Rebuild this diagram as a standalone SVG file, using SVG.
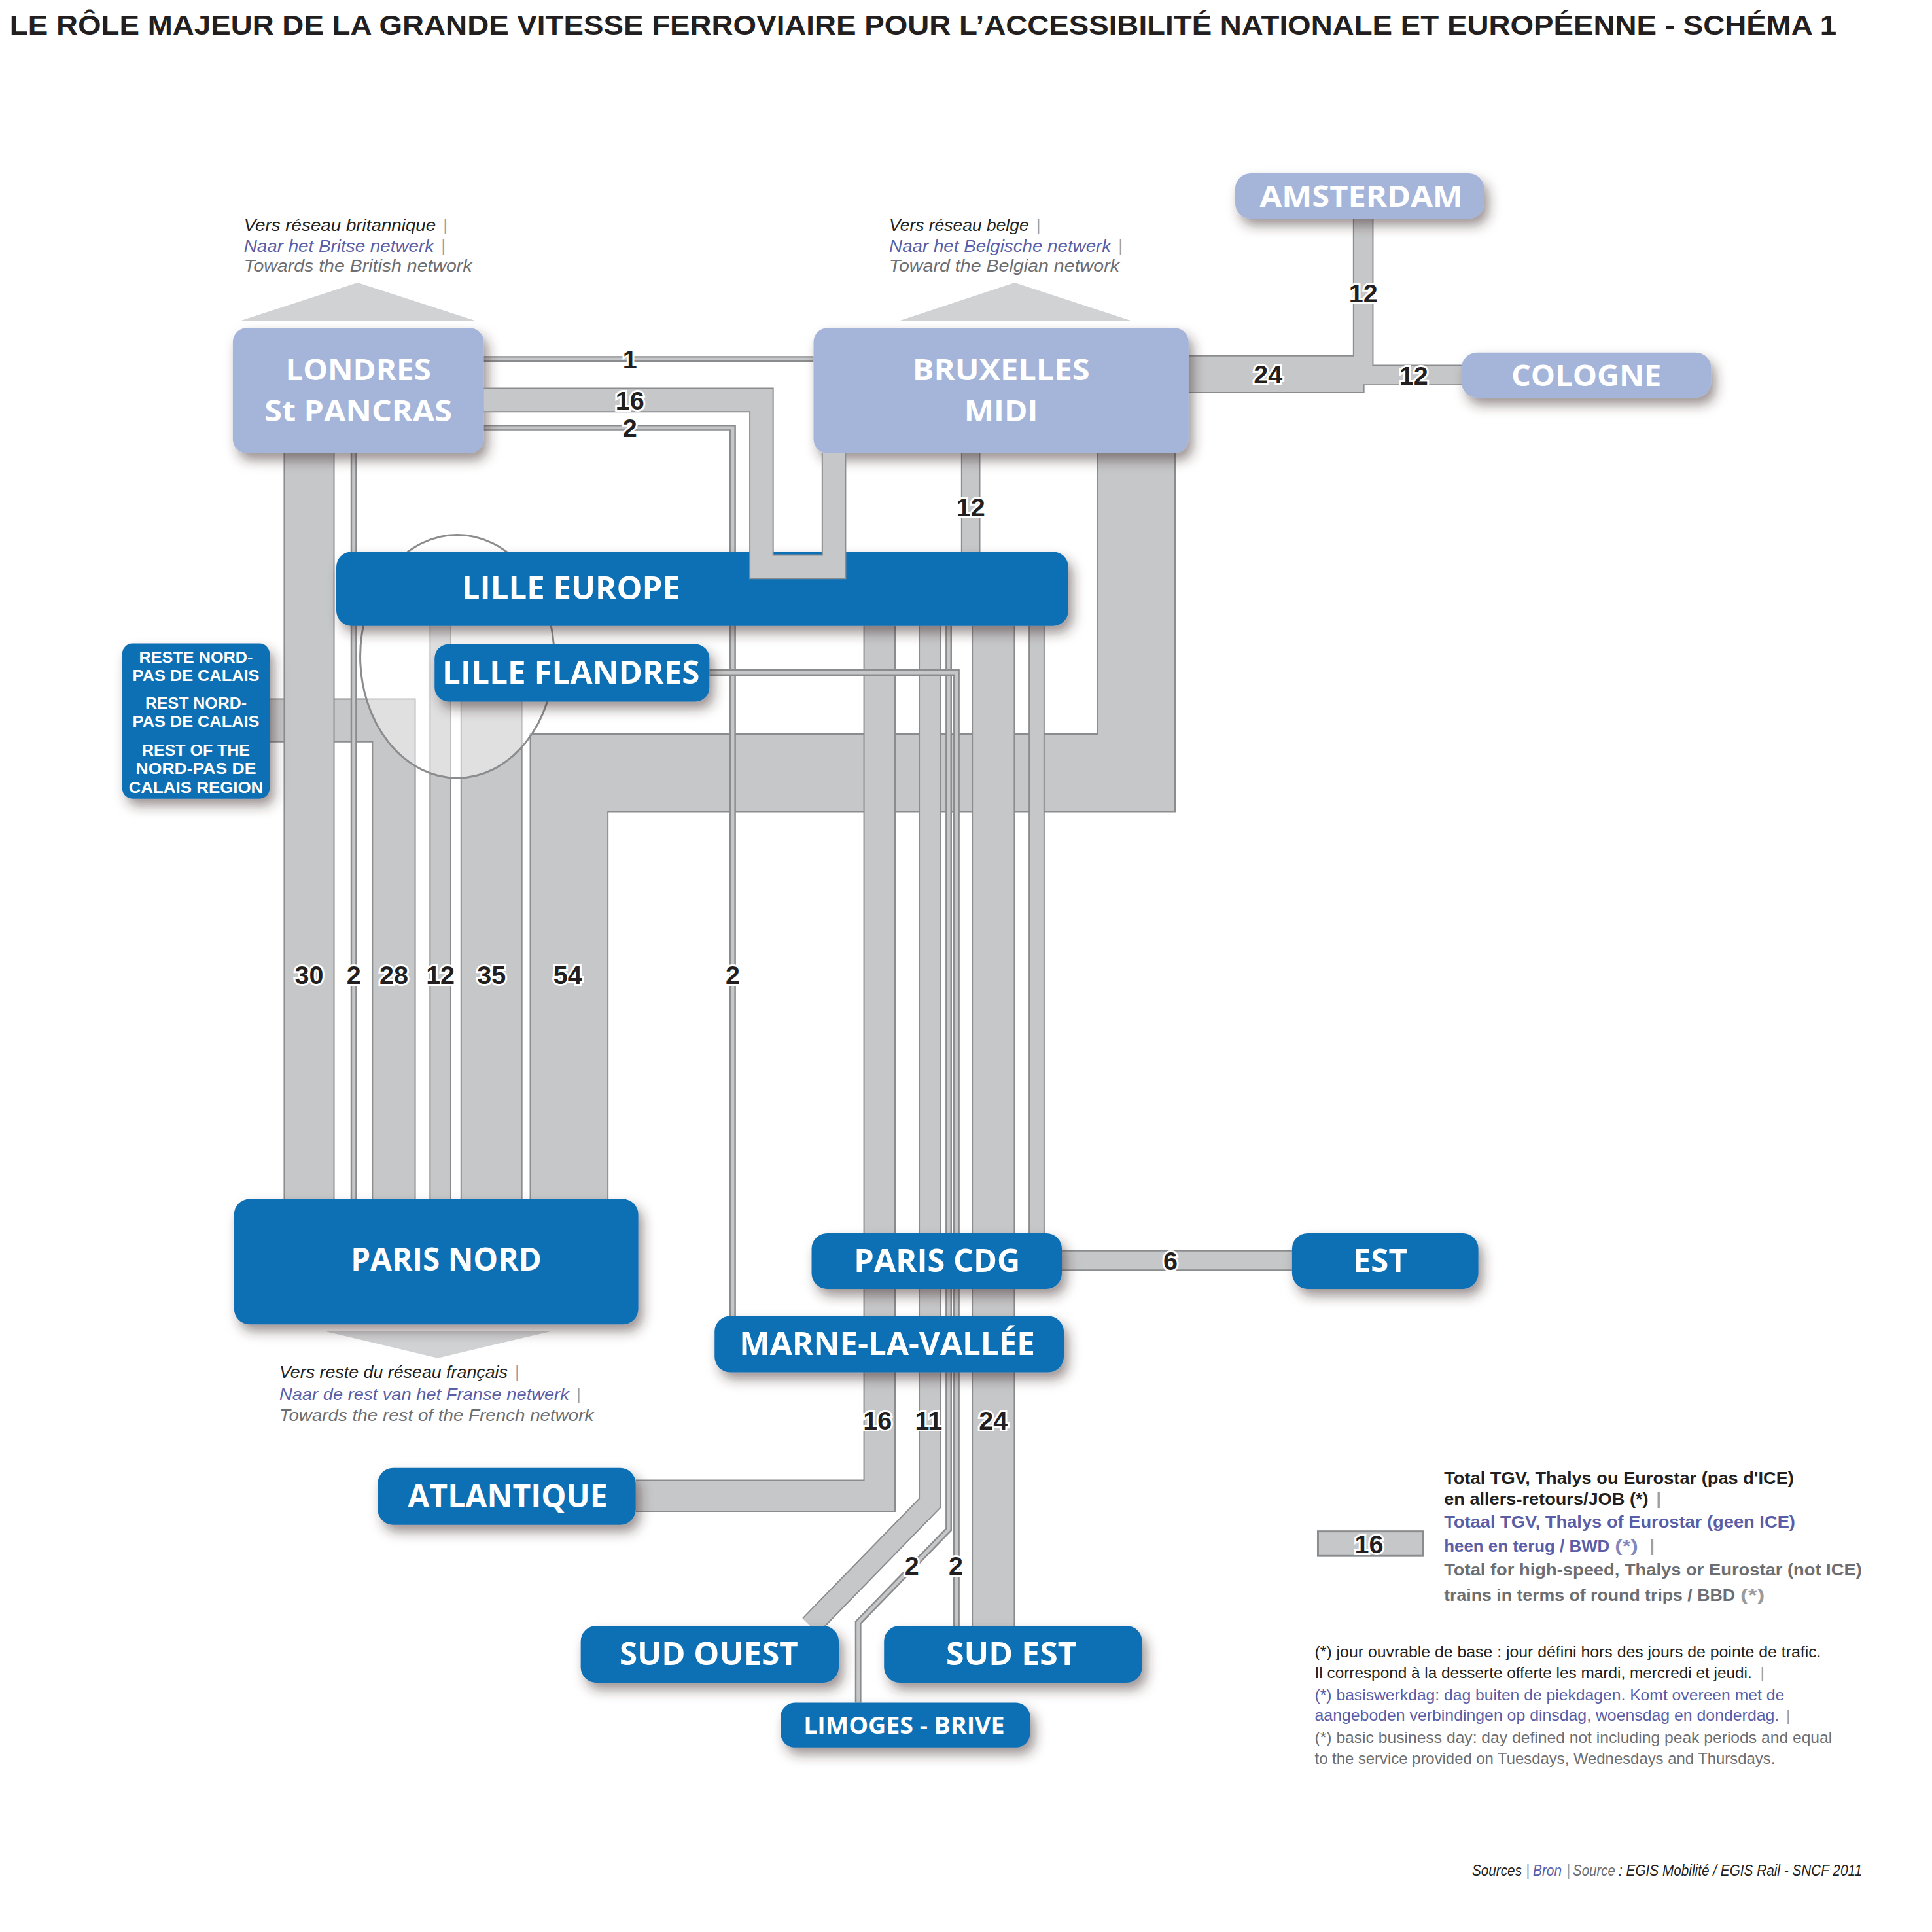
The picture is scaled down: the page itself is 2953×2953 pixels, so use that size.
<svg xmlns="http://www.w3.org/2000/svg" width="2953" height="2953" viewBox="0 0 2953 2953">
<defs>
<filter id="sh" x="-15%" y="-25%" width="140%" height="170%">
<feDropShadow dx="7" dy="11" stdDeviation="9" flood-color="#3b2c2c" flood-opacity="0.5"/>
</filter>
<style>
.o{fill:none;stroke:#8b8c8e}
.f{fill:none;stroke:#c6c7c9}
.lb{fill:#a5b5da}
.db{fill:#0c70b4}
.nt{font-family:'Open Sans','DejaVu Sans',sans-serif;font-weight:700;fill:#fff;text-anchor:middle}
.rt{font-family:'Liberation Sans',Arial,sans-serif;font-weight:700;font-size:24.5px;fill:#fff;text-anchor:middle}
.num{font-family:'Liberation Sans',Arial,sans-serif;font-weight:700;font-size:40px;fill:#231f20;stroke:#fff;stroke-width:6px;paint-order:stroke;text-anchor:middle}
.it{font-family:'Liberation Sans',Arial,sans-serif;font-style:italic;font-size:26px}
.k{fill:#231f20}.b{fill:#5a5ea6}.g{fill:#6d6e71}.p{fill:#9d9fa2}.b2{fill:#8486c0}.g2{fill:#9a9b9e}
.lg{font-family:'Liberation Sans',Arial,sans-serif;font-weight:700;font-size:27px}
.fn{font-family:'Liberation Sans',Arial,sans-serif;font-size:25px}
.src{font-family:'Liberation Sans',Arial,sans-serif;font-style:italic;font-size:23.5px}
.tri{fill:#d1d2d4}
</style>
</defs>
<rect width="2953" height="2953" fill="#fff"/>
<g transform="scale(0.98845)">

<text x="15" y="54" font-family="'Liberation Sans',Arial,sans-serif" font-weight="700" font-size="43" fill="#231f20" textLength="2825" lengthAdjust="spacingAndGlyphs">LE RÔLE MAJEUR DE LA GRANDE VITESSE FERROVIAIRE POUR L’ACCESSIBILITÉ NATIONALE ET EUROPÉENNE - SCHÉMA 1</text>

<g id="arrows">
<polygon class="tri" points="372,496 735,496 553,437"/>
<polygon class="tri" points="1391,496 1749,496 1569,437"/>
<polygon class="tri" points="500,2058 855,2058 677,2100"/>
</g>

<g id="connectors">
<path class="o" stroke-width="122" d="M880,1854V1195H1757V701"/><path class="f" stroke-width="118" d="M880,1854V1195H1757V701"/>
<path class="o" stroke-width="68" d="M417,1114H609V1854"/><path class="f" stroke-width="64" d="M417,1114H609V1854"/>
<path class="o" stroke-width="79" d="M478,701V1854"/><path class="f" stroke-width="75" d="M478,701V1854"/>
<path class="o" stroke-width="10" d="M547,701V1854"/><path class="f" stroke-width="5" d="M547,701V1854"/>
<path class="o" stroke-width="34" d="M681,968V1854"/><path class="f" stroke-width="30" d="M681,968V1854"/>
<path class="o" stroke-width="96" d="M760,1084V1854"/><path class="f" stroke-width="92" d="M760,1084V1854"/>
<path class="o" stroke-width="9" d="M748,555H1258"/><path class="f" stroke-width="4" d="M748,555H1258"/>
<path class="o" stroke-width="10" d="M748,661.5H1133V2035"/><path class="f" stroke-width="5" d="M748,661.5H1133V2035"/>
<path class="o" stroke-width="30" d="M1501,701V853"/><path class="f" stroke-width="26" d="M1501,701V853"/>
<path class="o" stroke-width="50" d="M1360,968V2313H983"/><path class="f" stroke-width="46" d="M1360,968V2313H983"/>
<path class="o" stroke-width="35" d="M1438,968V2324L1253,2514"/><path class="f" stroke-width="31" d="M1438,968V2324L1253,2514"/>
<path class="o" stroke-width="10" d="M1467,968V2365L1327,2509V2633"/><path class="f" stroke-width="5" d="M1467,968V2365L1327,2509V2633"/>
<path class="o" stroke-width="67" d="M1536,968V2514"/><path class="f" stroke-width="63" d="M1536,968V2514"/>
<path class="o" stroke-width="25" d="M1603,968V1907"/><path class="f" stroke-width="21" d="M1603,968V1907"/>
<path class="o" stroke-width="10" d="M1097,1040H1479V2514"/><path class="f" stroke-width="5" d="M1097,1040H1479V2514"/>
<path class="o" stroke-width="32" d="M1642,1949H1998"/><path class="f" stroke-width="28" d="M1642,1949H1998"/>
<path class="o" stroke-width="59" d="M1838,578.5H2110"/>
<path class="o" stroke-width="32" d="M2108,338V580H2260"/>
<path class="f" stroke-width="55" d="M1838,578.5H2108"/>
<path class="f" stroke-width="28" d="M2108,338V580H2260"/>
</g>

<ellipse cx="707" cy="1015" rx="150" ry="188" fill="#fff" fill-opacity="0.45" stroke="#8b8c8e" stroke-width="3"/>

<g id="n-londres"><rect class="lb" x="360" y="507" width="388" height="194" rx="22" filter="url(#sh)"/>
<text class="nt" x="554" y="588" font-size="46" textLength="225" lengthAdjust="spacingAndGlyphs">LONDRES</text>
<text class="nt" x="554" y="652" font-size="46" textLength="290" lengthAdjust="spacingAndGlyphs">St PANCRAS</text></g>
<g id="n-bruxelles"><rect class="lb" x="1258" y="507" width="580" height="194" rx="22" filter="url(#sh)"/>
<text class="nt" x="1548" y="588" font-size="46" textLength="274" lengthAdjust="spacingAndGlyphs">BRUXELLES</text>
<text class="nt" x="1548" y="652" font-size="46" textLength="114" lengthAdjust="spacingAndGlyphs">MIDI</text></g>
<g id="n-amsterdam"><rect class="lb" x="1910" y="268" width="385" height="70" rx="24" filter="url(#sh)"/>
<text class="nt" x="2105" y="320" font-size="46" textLength="314" lengthAdjust="spacingAndGlyphs">AMSTERDAM</text></g>
<g id="n-cologne"><rect class="lb" x="2260" y="545" width="386" height="70" rx="24" filter="url(#sh)"/>
<text class="nt" x="2453" y="597" font-size="46" textLength="232" lengthAdjust="spacingAndGlyphs">COLOGNE</text></g>
<g id="n-lille-europe"><rect class="db" x="520" y="853" width="1132" height="115" rx="24" filter="url(#sh)"/>
<text class="nt" x="883" y="927" font-size="48" textLength="338" lengthAdjust="spacingAndGlyphs">LILLE EUROPE</text></g>
<g id="n-lille-flandres"><rect class="db" x="672" y="996" width="425" height="89" rx="22" filter="url(#sh)"/>
<text class="nt" x="883" y="1057" font-size="48" textLength="398" lengthAdjust="spacingAndGlyphs">LILLE FLANDRES</text></g>
<g id="n-reste"><rect class="db" x="189" y="995" width="228" height="240" rx="16" filter="url(#sh)"/>
<text class="rt" x="303" y="1025" textLength="176" lengthAdjust="spacingAndGlyphs">RESTE NORD-</text>
<text class="rt" x="303" y="1053" textLength="196" lengthAdjust="spacingAndGlyphs">PAS DE CALAIS</text>
<text class="rt" x="303" y="1096" textLength="157" lengthAdjust="spacingAndGlyphs">REST NORD-</text>
<text class="rt" x="303" y="1124" textLength="196" lengthAdjust="spacingAndGlyphs">PAS DE CALAIS</text>
<text class="rt" x="303" y="1168" textLength="167" lengthAdjust="spacingAndGlyphs">REST OF THE</text>
<text class="rt" x="303" y="1197" textLength="186" lengthAdjust="spacingAndGlyphs">NORD-PAS DE</text>
<text class="rt" x="303" y="1226" textLength="208" lengthAdjust="spacingAndGlyphs">CALAIS REGION</text></g>
<g id="n-paris-nord"><rect class="db" x="362" y="1854" width="625" height="194" rx="24" filter="url(#sh)"/>
<text class="nt" x="690" y="1965" font-size="48" textLength="295" lengthAdjust="spacingAndGlyphs">PARIS NORD</text></g>
<g id="n-paris-cdg"><rect class="db" x="1255" y="1907" width="387" height="86" rx="24" filter="url(#sh)"/>
<text class="nt" x="1449" y="1967" font-size="48" textLength="257" lengthAdjust="spacingAndGlyphs">PARIS CDG</text></g>
<g id="n-est"><rect class="db" x="1998" y="1907" width="288" height="86" rx="24" filter="url(#sh)"/>
<text class="nt" x="2134" y="1967" font-size="48" textLength="84" lengthAdjust="spacingAndGlyphs">EST</text></g>
<g id="n-mlv"><rect class="db" x="1105" y="2035" width="540" height="87" rx="24" filter="url(#sh)"/>
<text class="nt" x="1372" y="2095" font-size="48" textLength="457" lengthAdjust="spacingAndGlyphs">MARNE-LA-VALLÉE</text></g>
<g id="n-atlantique"><rect class="db" x="584" y="2270" width="399" height="88" rx="24" filter="url(#sh)"/>
<text class="nt" x="785" y="2331" font-size="48" textLength="309" lengthAdjust="spacingAndGlyphs">ATLANTIQUE</text></g>
<g id="n-sud-ouest"><rect class="db" x="898" y="2514" width="399" height="88" rx="24" filter="url(#sh)"/>
<text class="nt" x="1096" y="2575" font-size="48" textLength="276" lengthAdjust="spacingAndGlyphs">SUD OUEST</text></g>
<g id="n-sud-est"><rect class="db" x="1367" y="2514" width="399" height="88" rx="24" filter="url(#sh)"/>
<text class="nt" x="1564" y="2575" font-size="48" textLength="202" lengthAdjust="spacingAndGlyphs">SUD EST</text></g>
<g id="n-limoges"><rect class="db" x="1207" y="2633" width="386" height="69" rx="22" filter="url(#sh)"/>
<text class="nt" x="1398" y="2681" font-size="36" textLength="311" lengthAdjust="spacingAndGlyphs">LIMOGES - BRIVE</text></g>

<g id="connector-16-u">
<path class="o" stroke-width="38" d="M748,618.5H1177.5V876.5H1289.5V701"/><path class="f" stroke-width="34" d="M748,618.5H1177.5V876.5H1289.5V701"/>
</g>

<g id="numbers">
<text class="num" x="974" y="570">1</text>
<text class="num" x="974" y="633">16</text>
<text class="num" x="974" y="676">2</text>
<text class="num" x="2108" y="467">12</text>
<text class="num" x="1961" y="593">24</text>
<text class="num" x="2186" y="595">12</text>
<text class="num" x="1501" y="798">12</text>
<text class="num" x="478" y="1522">30</text>
<text class="num" x="547" y="1522">2</text>
<text class="num" x="609" y="1522">28</text>
<text class="num" x="681" y="1522">12</text>
<text class="num" x="760" y="1522">35</text>
<text class="num" x="878" y="1522">54</text>
<text class="num" x="1133" y="1522">2</text>
<text class="num" x="1810" y="1964">6</text>
<text class="num" x="1357" y="2211">16</text>
<text class="num" x="1436" y="2211">11</text>
<text class="num" x="1536" y="2211">24</text>
<text class="num" x="1410" y="2435">2</text>
<text class="num" x="1478" y="2435">2</text>
</g>

<g id="notes">
<text class="it k" x="377" y="357" textLength="297" lengthAdjust="spacingAndGlyphs">Vers réseau britannique</text><text class="it p" x="685" y="357">|</text>
<text class="it b" x="377" y="390" textLength="294" lengthAdjust="spacingAndGlyphs">Naar het Britse netwerk</text><text class="it p" x="682" y="390">|</text>
<text class="it g" x="377" y="420" textLength="353" lengthAdjust="spacingAndGlyphs">Towards the British network</text>
<text class="it k" x="1375" y="357" textLength="216" lengthAdjust="spacingAndGlyphs">Vers réseau belge</text><text class="it p" x="1602" y="357">|</text>
<text class="it b" x="1375" y="390" textLength="343" lengthAdjust="spacingAndGlyphs">Naar het Belgische netwerk</text><text class="it p" x="1729" y="390">|</text>
<text class="it g" x="1375" y="420" textLength="356" lengthAdjust="spacingAndGlyphs">Toward the Belgian network</text>
<text class="it k" x="432" y="2131" textLength="353" lengthAdjust="spacingAndGlyphs">Vers reste du réseau français</text><text class="it p" x="796" y="2131">|</text>
<text class="it b" x="432" y="2165" textLength="448" lengthAdjust="spacingAndGlyphs">Naar de rest van het Franse netwerk</text><text class="it p" x="891" y="2165">|</text>
<text class="it g" x="432" y="2197" textLength="486" lengthAdjust="spacingAndGlyphs">Towards the rest of the French network</text>
</g>

<g id="legend">
<rect x="2038" y="2368" width="162" height="38" fill="#c6c7c9" stroke="#8b8c8e" stroke-width="3"/>
<text class="num" x="2117" y="2402">16</text>
<text class="lg k" x="2233" y="2295" textLength="541" lengthAdjust="spacingAndGlyphs">Total TGV, Thalys ou Eurostar (pas d'ICE)</text>
<text class="lg k" x="2233" y="2327" textLength="316" lengthAdjust="spacingAndGlyphs">en allers-retours/JOB (*)</text><text class="lg p" x="2561" y="2327">|</text>
<text class="lg b" x="2233" y="2362" textLength="543" lengthAdjust="spacingAndGlyphs">Totaal TGV, Thalys of Eurostar (geen ICE)</text>
<text class="lg b" x="2233" y="2400" textLength="256" lengthAdjust="spacingAndGlyphs">heen en terug / BWD</text><text class="lg b2" x="2497" y="2400" textLength="36" lengthAdjust="spacingAndGlyphs">(*)</text><text class="lg p" x="2551" y="2400">|</text>
<text class="lg g" x="2233" y="2436" textLength="646" lengthAdjust="spacingAndGlyphs">Total for high-speed, Thalys or Eurostar (not ICE)</text>
<text class="lg g" x="2233" y="2476" textLength="450" lengthAdjust="spacingAndGlyphs">trains in terms of round trips / BBD</text><text class="lg g2" x="2691" y="2476" textLength="38" lengthAdjust="spacingAndGlyphs">(*)</text>
</g>

<g id="footnotes">
<text class="fn k" x="2033" y="2563" textLength="783" lengthAdjust="spacingAndGlyphs">(*) jour ouvrable de base : jour défini hors des jours de pointe de trafic.</text>
<text class="fn k" x="2033" y="2595" textLength="676" lengthAdjust="spacingAndGlyphs">Il correspond à la desserte offerte les mardi, mercredi et jeudi.</text><text class="fn p" x="2722" y="2595">|</text>
<text class="fn b" x="2033" y="2629" textLength="726" lengthAdjust="spacingAndGlyphs">(*) basiswerkdag: dag buiten de piekdagen. Komt overeen met de</text>
<text class="fn b" x="2033" y="2661" textLength="718" lengthAdjust="spacingAndGlyphs">aangeboden verbindingen op dinsdag, woensdag en donderdag.</text><text class="fn p" x="2762" y="2661">|</text>
<text class="fn g" x="2033" y="2695" textLength="800" lengthAdjust="spacingAndGlyphs">(*) basic business day: day defined not including peak periods and equal</text>
<text class="fn g" x="2033" y="2727" textLength="712" lengthAdjust="spacingAndGlyphs">to the service provided on Tuesdays, Wednesdays and Thursdays.</text>
</g>
</g>

<g id="sources">
<text class="src k" x="2250" y="2867" textLength="76" lengthAdjust="spacingAndGlyphs">Sources</text>
<text class="src p" x="2332" y="2867">|</text>
<text class="src b" x="2343" y="2867" textLength="44" lengthAdjust="spacingAndGlyphs">Bron</text>
<text class="src p" x="2394" y="2867">|</text>
<text class="src g" x="2404" y="2867" textLength="65" lengthAdjust="spacingAndGlyphs">Source</text>
<text class="src k" x="2474" y="2867" textLength="372" lengthAdjust="spacingAndGlyphs">: EGIS Mobilité / EGIS Rail - SNCF 2011</text>
</g>
</svg>
